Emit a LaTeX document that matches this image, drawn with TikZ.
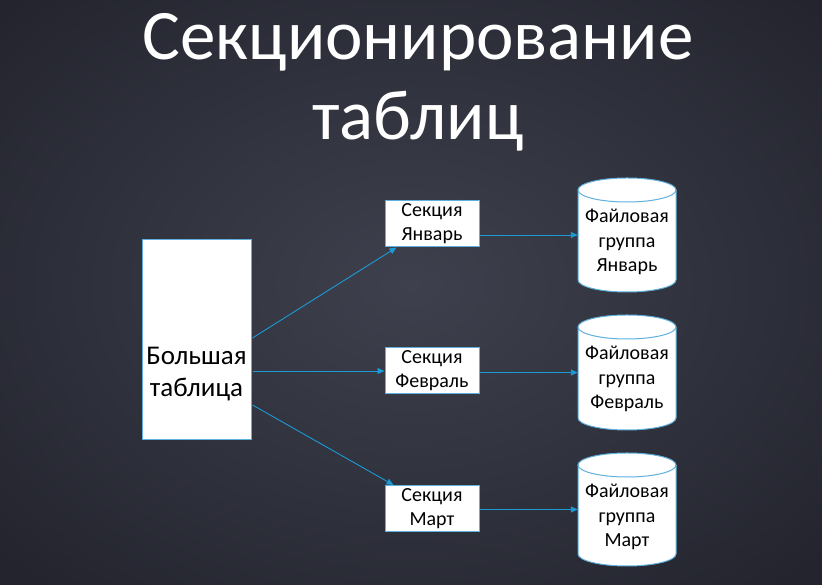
\documentclass[tikz,border=0pt]{standalone}
\usepackage{fontspec}
\setmainfont{Carlito}
\usetikzlibrary{arrows.meta,calc}
\definecolor{bgout}{HTML}{23242E}
\definecolor{bgin}{HTML}{3E414D}
\definecolor{arr}{HTML}{1C9AD6}
\definecolor{edge}{HTML}{5FB0DC}
\begin{document}
\begin{tikzpicture}[x=1pt,y=1pt,
  box/.style={draw=edge,line width=1pt,fill=white,inner sep=0pt,align=center,text=black},
  lbl/.style={align=center,text=black,font=\fontsize{20}{24.5}\selectfont},
  conn/.style={draw=arr,line width=0.9pt,-{Triangle[length=7pt,width=6pt]}},
  ttl/.style={text=white,anchor=base,font=\fontsize{71}{80}\selectfont}]
\useasboundingbox (0,0) rectangle (822,585);
\shade[inner color=bgin,outer color=bgout] (-150,-100) rectangle (972,700);
% title
\node[ttl] (t1) at (418,525) {Секционирование};
\node[ttl] (t2) at (418,445) {таблиц};
% big table
\node[box,minimum width=109pt,minimum height=200pt] (big) at (196.5,245) {};
\node[align=center,text=black,font=\fontsize{27}{32}\selectfont] (bigt) at (196.5,211) {Большая\\таблица};
% sections
\node[box,minimum width=94pt,minimum height=46pt,font=\fontsize{20}{24}\selectfont] (jan) at (432,361) {Секция\\Январь};
\node[box,minimum width=94pt,minimum height=46pt,font=\fontsize{20}{24}\selectfont] (feb) at (432,214) {Секция\\Февраль};
\node[box,minimum width=94pt,minimum height=46pt,font=\fontsize{20}{24}\selectfont] (mar) at (432,76.5) {Секция\\Март};
% cylinders
\newcommand\dbcyl[4]{%
  \fill[white] (#1-49,#3+12) -- (#1-49,#2-12) arc[start angle=180,end angle=0,x radius=49,y radius=12] -- (#1+49,#3+12) arc[start angle=0,end angle=-180,x radius=49,y radius=12] -- cycle;
  \draw[edge,line width=1pt] (#1-49,#2-12) -- (#1-49,#3+12) arc[start angle=180,end angle=360,x radius=49,y radius=12] -- (#1+49,#2-12);
  \draw[edge,line width=1pt] (#1,#2-12) ellipse[x radius=49,y radius=12];
  \node[minimum width=98pt,minimum height=#2-#3,inner sep=0pt] (#4) at (#1,{(#2+#3)/2}) {};
}
\dbcyl{627}{407}{293}{cyl1}
\dbcyl{627}{270}{155}{cyl2}
\dbcyl{627}{132}{19}{cyl3}
\node[lbl] (c1t) at (627,343) {Файловая\\группа\\Январь};
\node[lbl] (c2t) at (627,206) {Файловая\\группа\\Февраль};
\node[lbl] (c3t) at (627,68) {Файловая\\группа\\Март};
% connectors
\coordinate (s1) at ($(big.east)+(1,2)$);
\coordinate (s2) at ($(big.east)+(1,-31)$);
\coordinate (s3) at ($(big.east)+(1,-65)$);
\draw[conn] (s1) -- ([xshift=12pt]jan.south west);
\draw[conn] (s2) -- (feb.west);
\draw[conn] (s3) -- ([xshift=9pt]mar.north west);
\draw[conn] (jan.east |- cyl1.west) -- (cyl1.west);
\draw[conn] (feb.east |- cyl2.west) -- (cyl2.west);
\draw[conn] (mar.east |- cyl3.west) -- (cyl3.west);
\end{tikzpicture}
\end{document}
